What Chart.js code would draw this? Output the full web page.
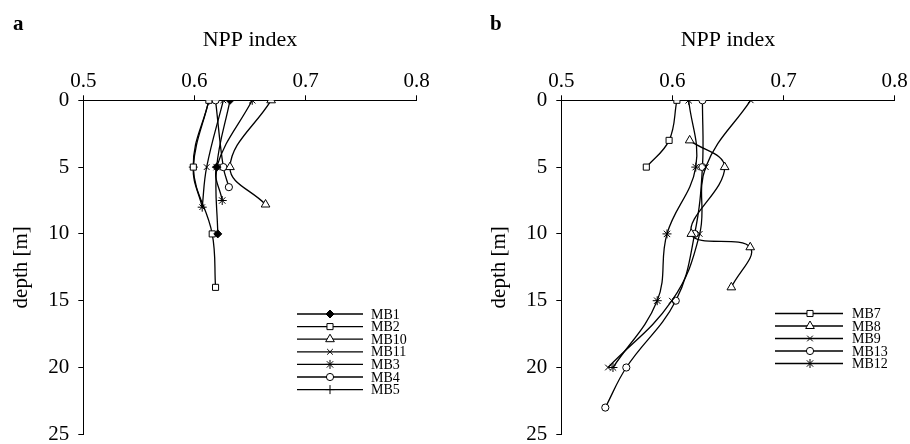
<!DOCTYPE html>
<html><head><meta charset="utf-8">
<script src="https://cdn.jsdelivr.net/npm/chart.js@4.4.0/dist/chart.umd.min.js"></script>
<style>
html,body{margin:0;padding:0;background:#fff;width:910px;height:444px;overflow:hidden;}
#wa{position:absolute;left:0;top:0;width:455px;height:444px;}
#wb{position:absolute;left:478px;top:0;width:432px;height:444px;}
canvas{display:block;}
</style></head><body>
<div id="wa"><canvas id="ca" width="455" height="444"></canvas></div>
<div id="wb"><canvas id="cb" width="432" height="444"></canvas></div>
<script>
// ---- tick labels ----
const xTicks = [0.5, 0.6, 0.7, 0.8];
const yTicks = [0, 5, 10, 15, 20, 25];

// ---- panel a ----
const namesA = ['MB1', 'MB2', 'MB10', 'MB11', 'MB3', 'MB4', 'MB5'];
const depthMB1 = [0, 5, 10];        const nppMB1 = [0.632, 0.620, 0.621];
const depthMB2 = [0, 5, 10, 14];    const nppMB2 = [0.613, 0.599, 0.616, 0.619];
const depthMB10 = [0, 5, 7.8];      const nppMB10 = [0.669, 0.632, 0.664];
const depthMB11 = [0, 5, 8];        const nppMB11 = [0.626, 0.611, 0.607];
const depthMB3 = [0, 5, 7.5];       const nppMB3 = [0.652, 0.620, 0.625];
const depthMB4 = [0, 5, 6.5];       const nppMB4 = [0.619, 0.626, 0.631];
const depthMB5 = [0, 5, 8];         const nppMB5 = [0.613, 0.599, 0.607];

// ---- panel b ----
const namesB = ['MB7', 'MB8', 'MB9', 'MB13', 'MB12'];
const depthMB7 = [0, 3, 5];               const nppMB7 = [0.604, 0.597, 0.5765];
const depthMB8 = [3, 5, 10, 11, 14];      const nppMB8 = [0.6155, 0.647, 0.617, 0.670, 0.653];
const depthMB9 = [0, 5, 10, 15, 20];      const nppMB9 = [0.6704, 0.630, 0.6245, 0.5995, 0.542];
const depthMB13 = [0, 5, 10, 15, 20, 23]; const nppMB13 = [0.627, 0.627, 0.620, 0.603, 0.5585, 0.5396];
const depthMB12 = [0, 5, 10, 15, 20];     const nppMB12 = [0.6146, 0.621, 0.5951, 0.5863, 0.5465];

const FONT = '"Liberation Serif", "Times New Roman", serif';

const marker = {
  diamond: {pointStyle: 'rectRot', pointRadius: 4, bg: '#000'},
  square: {pointStyle: 'rect', pointRadius: 4.3, bg: '#fff'},
  triangle: {pointStyle: 'triangle', pointRadius: 5, bg: '#fff'},
  x: {pointStyle: 'crossRot', pointRadius: 4, bg: '#fff'},
  star: {pointStyle: 'star', pointRadius: 4.5, bg: '#fff'},
  circle: {pointStyle: 'circle', pointRadius: 3.6, bg: '#fff'},
  plus: {pointStyle: 'cross', pointRadius: 4.5, bg: '#fff'}
};

function ds(label, depths, vals, m) {
  const mk = marker[m];
  return {
    label: label,
    data: depths.map((d, i) => ({x: vals[i], y: d})),
    showLine: true,
    tension: 0.4,
    borderColor: '#000',
    borderWidth: 1.3,
    pointStyle: mk.pointStyle,
    pointRadius: mk.pointRadius,
    pointBackgroundColor: mk.bg,
    pointBorderColor: '#000',
    pointBorderWidth: 1,
    fill: false
  };
}

const legendPlugin = {
  id: 'customLegend',
  afterDraw(chart, args, opts) {
    const ctx = chart.ctx;
    ctx.save();
    ctx.fillStyle = '#000';
    ctx.font = 'bold 21px ' + FONT;
    ctx.textAlign = 'left';
    ctx.textBaseline = 'alphabetic';
    ctx.fillText(opts.panel, opts.px, opts.py);
    ctx.font = '14px ' + FONT;
    ctx.textBaseline = 'middle';
    chart.data.datasets.forEach((d, i) => {
      const y = opts.y0 + i * opts.dy;
      ctx.strokeStyle = '#000';
      ctx.lineWidth = 1.3;
      ctx.beginPath(); ctx.moveTo(opts.x0, y); ctx.lineTo(opts.x1, y); ctx.stroke();
      ctx.fillStyle = d.pointBackgroundColor;
      ctx.lineWidth = 1;
      Chart.helpers.drawPoint(ctx, {pointStyle: d.pointStyle, radius: d.pointRadius, rotation: 0, borderWidth: 1}, opts.xm, y);
      ctx.fillStyle = '#000';
      ctx.fillText(d.label, opts.xt, y + 1);
    });
    ctx.restore();
  }
};

function options(rightPad, leg) {
  return {
    responsive: false,
    animation: false,
    devicePixelRatio: 1,
    layout: {padding: {left: 0, top: 0, right: rightPad, bottom: 9.7}},
    plugins: {legend: {display: false}, tooltip: {enabled: false}, customLegend: leg},
    scales: {
      x: {
        type: 'linear', position: 'top', min: 0.5, max: 0.8,
        afterFit(s) { s.height = 100.3; s.paddingLeft = 0; s.paddingRight = 0; s.paddingTop = 0; s.paddingBottom = 0; },
        afterBuildTicks(s) { s.ticks = xTicks.map(v => ({value: v})); },
        ticks: {callback: v => v.toFixed(1), font: {family: FONT, size: 21}, color: '#000', padding: 1, maxRotation: 0, autoSkip: false},
        grid: {drawOnChartArea: false, color: '#000', tickLength: 5, tickWidth: 1},
        border: {display: true, color: '#000', width: 1},
        title: {display: true, text: 'NPP index', font: {family: FONT, size: 22}, color: '#000', padding: {top: 27, bottom: 0}}
      },
      y: {
        type: 'linear', position: 'left', reverse: true, min: 0, max: 25,
        afterFit(s) { s.width = 83.3; s.paddingLeft = 0; s.paddingRight = 0; s.paddingTop = 0; s.paddingBottom = 0; },
        afterBuildTicks(s) { s.ticks = yTicks.map(v => ({value: v})); },
        ticks: {font: {family: FONT, size: 21}, color: '#000', padding: 9, autoSkip: false},
        grid: {drawOnChartArea: false, color: '#000', tickLength: 5, tickWidth: 1},
        border: {display: true, color: '#000', width: 1},
        title: {display: true, text: 'depth [m]', font: {family: FONT, size: 21}, color: '#000', padding: {top: 9, bottom: 0}}
      }
    }
  };
}

new Chart(document.getElementById('ca'), {
  type: 'scatter',
  data: {datasets: [
    ds(namesA[0], depthMB1, nppMB1, 'diamond'),
    ds(namesA[1], depthMB2, nppMB2, 'square'),
    ds(namesA[2], depthMB10, nppMB10, 'triangle'),
    ds(namesA[3], depthMB11, nppMB11, 'x'),
    ds(namesA[4], depthMB3, nppMB3, 'star'),
    ds(namesA[5], depthMB4, nppMB4, 'circle'),
    ds(namesA[6], depthMB5, nppMB5, 'plus')
  ]},
  options: options(38.3, {panel: 'a', px: 13, py: 30, y0: 314, dy: 12.6, x0: 297, x1: 363, xm: 330, xt: 371}),
  plugins: [legendPlugin]
});

new Chart(document.getElementById('cb'), {
  type: 'scatter',
  data: {datasets: [
    ds(namesB[0], depthMB7, nppMB7, 'square'),
    ds(namesB[1], depthMB8, nppMB8, 'triangle'),
    ds(namesB[2], depthMB9, nppMB9, 'x'),
    ds(namesB[3], depthMB13, nppMB13, 'circle'),
    ds(namesB[4], depthMB12, nppMB12, 'star')
  ]},
  options: options(15.3, {panel: 'b', px: 12, py: 30, y0: 313.5, dy: 12.5, x0: 297, x1: 365, xm: 332, xt: 374}),
  plugins: [legendPlugin]
});
</script>
</body></html>
